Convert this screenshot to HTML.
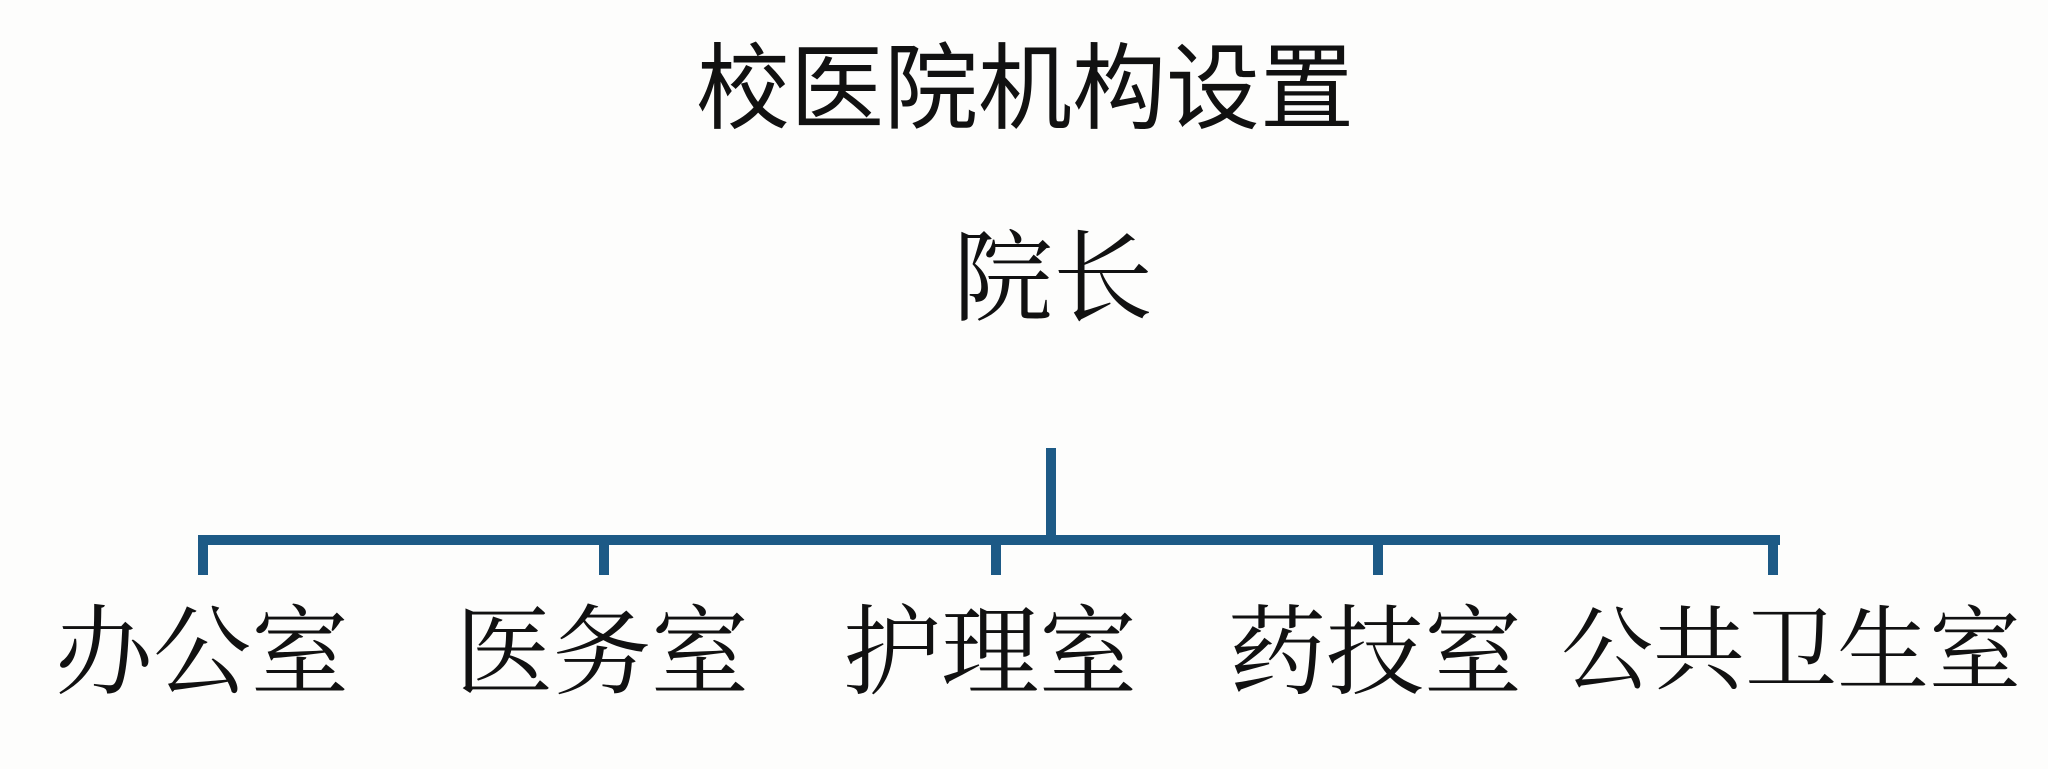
<!DOCTYPE html>
<html><head><meta charset="utf-8"><style>
body{margin:0;width:2048px;height:769px;background:#fdfdfc;position:relative;overflow:hidden}
.t{position:absolute;white-space:nowrap;line-height:1;color:#111}
.s{font-family:"Liberation Serif","Noto Serif CJK SC",serif;font-size:98px}
.l{position:absolute;background:#1d5a86}
</style></head><body>
<div class="t" style="left:696px;top:42px;font-family:'Liberation Sans','Noto Sans CJK SC',sans-serif;font-size:94px;">校医院机构设置</div>
<div class="t s" style="left:953px;top:230px;font-size:100px">院长</div>
<div class="l" style="left:1046px;top:448px;width:10px;height:92px"></div>
<div class="l" style="left:198px;top:535px;width:1582px;height:10px"></div>
<div class="l" style="left:198px;top:535px;width:10px;height:40px"></div>
<div class="l" style="left:599px;top:535px;width:10px;height:40px"></div>
<div class="l" style="left:991px;top:535px;width:10px;height:40px"></div>
<div class="l" style="left:1373px;top:535px;width:10px;height:40px"></div>
<div class="l" style="left:1768px;top:535px;width:10px;height:40px"></div>
<div class="t s" style="left:55px;top:605px">办公室</div>
<div class="t s" style="left:455px;top:605px">医务室</div>
<div class="t s" style="left:843px;top:605px">护理室</div>
<div class="t s" style="left:1228px;top:605px">药技室</div>
<div class="t s" style="left:1561px;top:605px;font-size:92px">公共卫生室</div>
</body></html>
